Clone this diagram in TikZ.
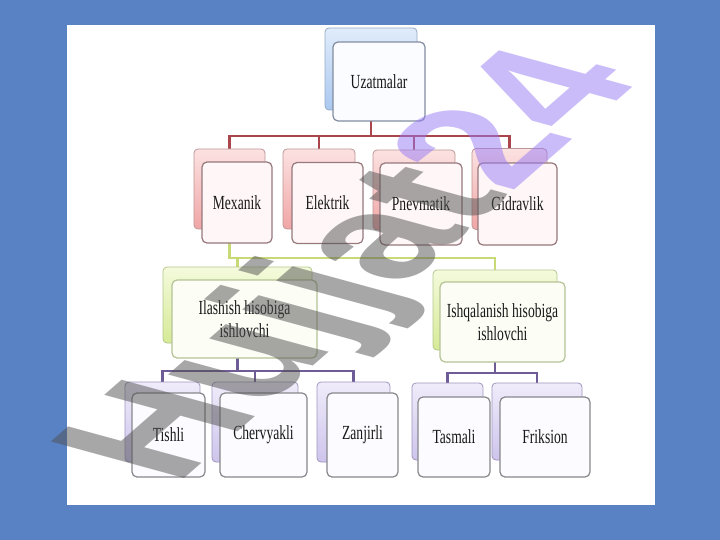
\documentclass[tikz,border=0pt]{standalone}
\usepackage{fontspec}
\setmainfont{Liberation Serif}
\newfontfamily\wmfont{Liberation Sans}
\usepackage{graphicx}
\pgfdeclarelayer{back}
\pgfdeclarelayer{conn}
\pgfsetlayers{back,conn,main}
\definecolor{bgblue}{RGB}{89,130,196}
\definecolor{cone}{RGB}{170,70,75}
\definecolor{ctwo}{RGB}{200,218,120}
\definecolor{cthree}{RGB}{110,92,150}
\definecolor{wmgray}{RGB}{80,80,80}
\definecolor{wmlav}{RGB}{150,120,245}
\definecolor{txt}{RGB}{25,25,25}
\newcommand{\sq}[1]{\scalebox{0.68}[1]{#1}}
\tikzset{
  every node/.style={font=\fontsize{20}{23}\selectfont, text=txt},
  bkbase/.style={rounded corners=4pt, line width=0.8pt, inner sep=0pt},
  frbase/.style={rounded corners=5pt, line width=1.2pt, inner sep=0pt, align=center},
  bk0/.style={bkbase, draw={rgb,255:red,150;green,170;blue,200}, top color={rgb,255:red,224;green,236;blue,250}, bottom color={rgb,255:red,170;green,200;blue,240}},
  bk1/.style={bkbase, draw={rgb,255:red,190;green,150;blue,150}, top color={rgb,255:red,252;green,226;blue,226}, bottom color={rgb,255:red,240;green,165;blue,165}},
  bk2/.style={bkbase, draw={rgb,255:red,180;green,200;blue,140}, top color={rgb,255:red,244;green,250;blue,220}, bottom color={rgb,255:red,214;green,234;blue,150}},
  bk3/.style={bkbase, draw={rgb,255:red,160;green,150;blue,190}, top color={rgb,255:red,240;green,236;blue,250}, bottom color={rgb,255:red,206;green,196;blue,236}},
  fr0/.style={frbase, draw={rgb,255:red,130;green,140;blue,160}, fill={rgb,255:red,250;green,252;blue,255}},
  fr1/.style={frbase, draw={rgb,255:red,150;green,120;blue,125}, fill={rgb,255:red,255;green,247;blue,247}},
  fr2/.style={frbase, draw={rgb,255:red,180;green,195;blue,150}, fill={rgb,255:red,252;green,253;blue,245}},
  fr3/.style={frbase, draw={rgb,255:red,135;green,135;blue,140}, fill={rgb,255:red,252;green,251;blue,255}},
  cona/.style={draw=cone, line width=2.6pt},
  conb/.style={draw=ctwo, line width=2.6pt},
  conc/.style={draw=cthree, line width=2.6pt},
}
\begin{document}
\begin{tikzpicture}[x=1pt,y=-1pt]
\useasboundingbox (0,0) rectangle (720,540);
\begin{pgfonlayer}{back}
\fill[bgblue] (0,0) rectangle (720,540);
\fill[white] (67,25) rectangle (655,505);
\end{pgfonlayer}

% level 0
\node[bk0, minimum width=92pt, minimum height=82pt] (uzB) at (371,69) {};
\node[fr0, minimum width=92pt, minimum height=79pt] (uzF) at (379,81.5) {\sq{Uzatmalar}};

% level 1
\node[bk1, minimum width=71pt, minimum height=80pt] (mexB) at (229.5,189) {};
\node[fr1, minimum width=70pt, minimum height=81pt] (mexF) at (237,202.5) {\sq{Mexanik}};
\node[bk1, minimum width=72pt, minimum height=80pt] (eleB) at (319,189) {};
\node[fr1, minimum width=71pt, minimum height=81pt] (eleF) at (327.5,203) {\sq{Elektrik}};
\node[bk1, minimum width=82pt, minimum height=80pt] (pneB) at (414,190) {};
\node[fr1, minimum width=82pt, minimum height=82pt] (pneF) at (421,204) {\sq{Pnevmatik}};
\node[bk1, minimum width=75pt, minimum height=81pt] (gidB) at (509.5,189) {};
\node[fr1, minimum width=79pt, minimum height=82pt] (gidF) at (517.5,204) {\sq{Gidravlik}};

% level 2
\node[bk2, minimum width=149pt, minimum height=76pt] (ilaB) at (237.5,305) {};
\node[fr2, minimum width=145pt, minimum height=78pt] (ilaF) at (244.5,319) {\sq{Ilashish hisobiga}\\\sq{ishlovchi}};
\node[bk2, minimum width=124pt, minimum height=80pt] (ishB) at (495,310) {};
\node[fr2, minimum width=125pt, minimum height=80pt] (ishF) at (502.5,322) {\sq{Ishqalanish hisobiga}\\\sq{ishlovchi}};

% level 3
\node[bk3, minimum width=75pt, minimum height=80pt] (tisB) at (162.5,422) {};
\node[fr3, minimum width=73pt, minimum height=84pt] (tisF) at (168.5,435) {\sq{Tishli}};
\node[bk3, minimum width=86pt, minimum height=80pt] (cheB) at (255,422) {};
\node[fr3, minimum width=87pt, minimum height=84pt] (cheF) at (263.5,435) {\sq{Chervyakli}};
\node[bk3, minimum width=73pt, minimum height=80pt] (zanB) at (353.5,422) {};
\node[fr3, minimum width=71pt, minimum height=84pt] (zanF) at (362.5,435) {\sq{Zanjirli}};
\node[bk3, minimum width=71pt, minimum height=77pt] (tasB) at (447.5,421.5) {};
\node[fr3, minimum width=72pt, minimum height=80pt] (tasF) at (454,437) {\sq{Tasmali}};
\node[bk3, minimum width=90pt, minimum height=77pt] (friB) at (537,421.5) {};
\node[fr3, minimum width=90pt, minimum height=80pt] (friF) at (545,437) {\sq{Friksion}};

% connectors
\coordinate (busa) at (0,136);
\coordinate (busb) at (0,258);
\coordinate (busc) at (0,371);
\coordinate (busd) at (0,373);
\begin{pgfonlayer}{conn}
\draw[cona] (uzB.south) -- (uzB.south |- busa);
\draw[cona] (mexB.north) |- (gidB.north |- busa) -- (gidB.north);
\draw[cona] (eleB.north) -- (eleB.north |- busa);
\draw[cona] (pneB.north) -- (pneB.north |- busa);
\draw[conb] (mexB.south) |- (ishB.north |- busb) -- (ishB.north);
\draw[conb] (ilaB.north) -- (ilaB.north |- busb);
\draw[conc] (ilaB.south) -- (ilaB.south |- busc);
\draw[conc] (tisB.north) |- (zanB.north |- busc) -- (zanB.north);
\draw[conc] (cheB.north) -- (cheB.north |- busc);
\draw[conc] (ishB.south) -- (ishB.south |- busd);
\draw[conc] (tasB.north) |- (friB.north |- busd) -- (friB.north);
\end{pgfonlayer}

% watermark
\begin{scope}[shift={(176,486)}, cm={1.205,1.052,-1.939,0.530,(0,0)}]
\node[transform shape, anchor=base west, inner sep=0pt, text opacity=0.5,
      font=\wmfont\bfseries\fontsize{100}{100}\selectfont] (wm) at (0,0)
      {\textcolor{wmgray}{Hujjat}\textcolor{wmlav}{24}};
\end{scope}
\end{tikzpicture}
\end{document}
